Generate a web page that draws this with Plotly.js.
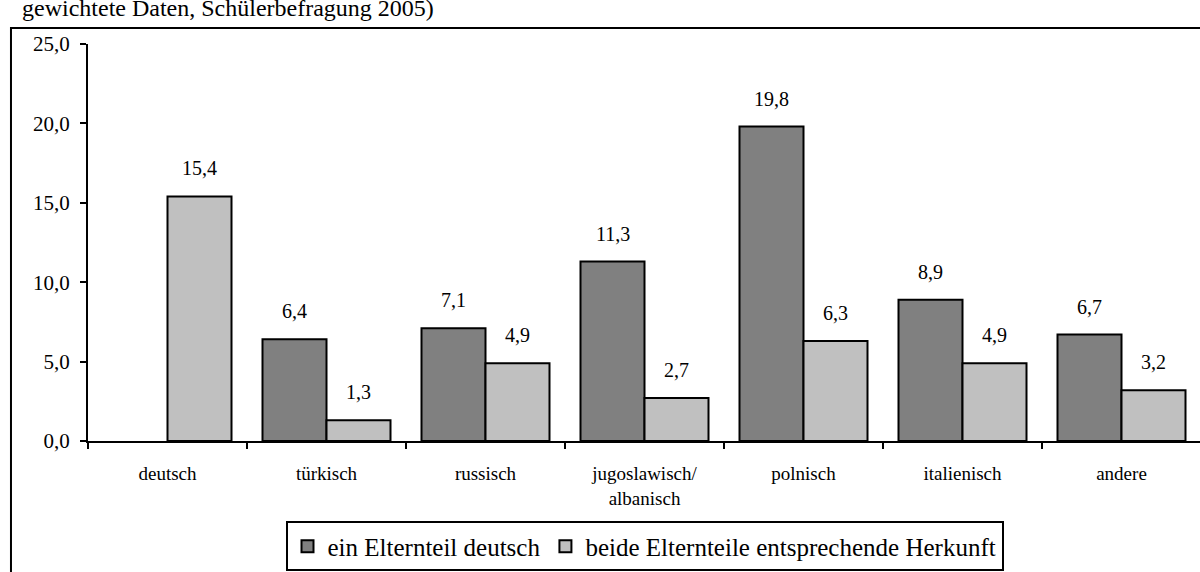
<!DOCTYPE html>
<html>
<head>
<meta charset="utf-8">
<script src="https://cdn.plot.ly/plotly-3.0.1.min.js"></script>
<style>
html,body{margin:0;padding:0;overflow:hidden;background:#fff;}
#chart{width:1202px;height:572px;}
</style>
</head>
<body>
<div id="chart"></div>
<script>
const categories = ["deutsch", "türkisch", "russisch", "jugoslawisch/<br>albanisch", "polnisch", "italienisch", "andere"];
const einElternteil = [null, 6.4, 7.1, 11.3, 19.8, 8.9, 6.7];
const beideElternteile = [15.4, 1.3, 4.9, 2.7, 6.3, 4.9, 3.2];
const seriesNames = ["ein Elternteil deutsch", "beide Elternteile entsprechende Herkunft"];
const yTicks = [0, 5, 10, 15, 20, 25];
const topText = "gewichtete Daten, Schülerbefragung 2005)";

const font = "Liberation Serif";
const fmt = v => v.toFixed(1).replace(".", ",");

const traces = [
  {type: "bar", name: seriesNames[0], x: categories, y: einElternteil,
   marker: {color: "#808080", line: {color: "#000", width: 2}}, hoverinfo: "none"},
  {type: "bar", name: seriesNames[1], x: categories, y: beideElternteile,
   marker: {color: "#c0c0c0", line: {color: "#000", width: 2}}, hoverinfo: "none"}
];

const annotations = [];
[einElternteil, beideElternteile].forEach((arr, s) => {
  arr.forEach((v, i) => {
    if (v === null) return;
    annotations.push({x: i + (s === 0 ? -0.2 : 0.2), y: v, xref: "x", yref: "y",
      text: fmt(v), showarrow: false, yanchor: "middle", yshift: 28,
      font: {family: font, size: 20, color: "#000"}});
  });
});
annotations.push({xref: "paper", yref: "paper", x: -0.061, y: 1.0403, xanchor: "left", yanchor: "bottom",
  yshift: 5, text: topText, showarrow: false, font: {family: font, size: 24, color: "#000"}});

const layout = {
  width: 1202, height: 572,
  margin: {l: 88, r: 1, t: 44, b: 131, autoexpand: false},
  paper_bgcolor: "#fff", plot_bgcolor: "#fff",
  font: {family: font, color: "#000"},
  barmode: "group", bargap: 0.195, bargroupgap: 0,
  separators: ",.",
  showlegend: true,
  legend: {orientation: "h", x: 0.5, xanchor: "center", y: -0.2025, yanchor: "top",
    bordercolor: "#000", borderwidth: 2, bgcolor: "#fff",
    font: {family: font, size: 25, color: "#000"}, itemwidth: 30, traceorder: "normal"},
  xaxis: {type: "category", showline: true, linecolor: "#000", linewidth: 2,
    ticks: "outside", tickson: "boundaries", ticklen: 6, tickwidth: 2, tickcolor: "#000",
    ticklabelstandoff: 14,
    showgrid: false, zeroline: false, fixedrange: true,
    tickfont: {family: font, size: 19, color: "#000"}},
  yaxis: {range: [0, 25], tickvals: yTicks, ticktext: yTicks.map(fmt),
    showline: true, linecolor: "#000", linewidth: 2,
    ticks: "outside", ticklen: 6, tickwidth: 2, tickcolor: "#000",
    ticklabelstandoff: 6,
    showgrid: false, zeroline: false, fixedrange: true,
    tickfont: {family: font, size: 21, color: "#000"}},
  shapes: [{type: "rect", xref: "paper", yref: "paper", x0: -0.0692, x1: 1.05, y0: -0.4, y1: 1.0403,
    line: {color: "#000", width: 2}, fillcolor: "rgba(0,0,0,0)", layer: "below"}],
  annotations: annotations
};

Plotly.newPlot("chart", traces, layout, {displayModeBar: false, staticPlot: true});
</script>
</body>
</html>
